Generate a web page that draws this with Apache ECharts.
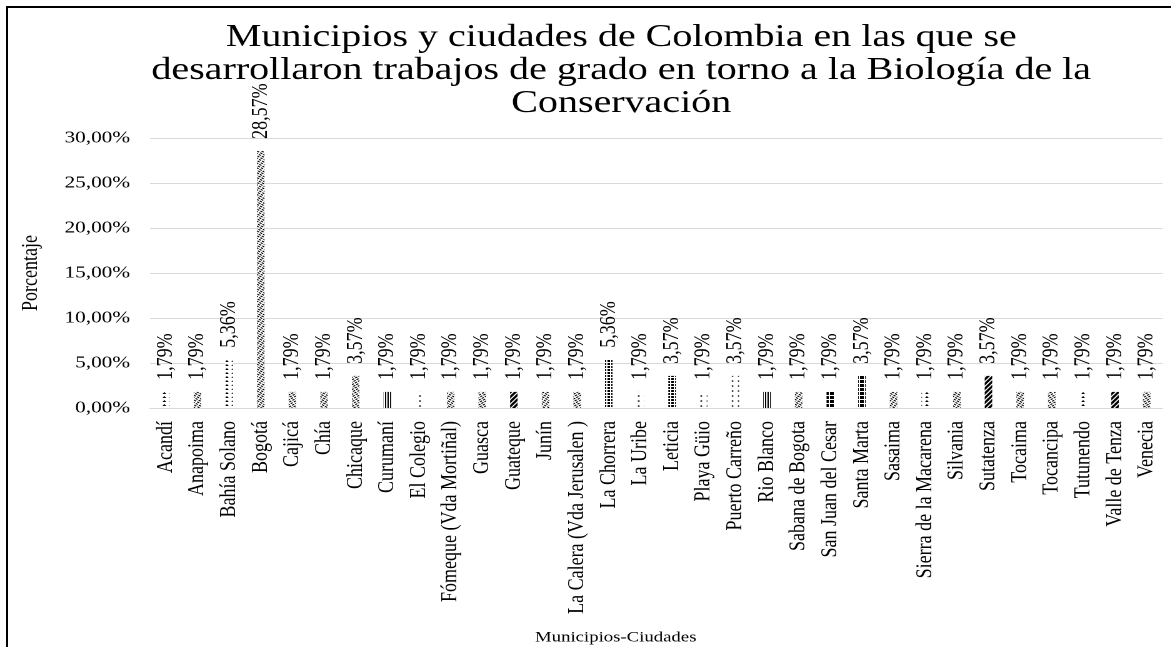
<!DOCTYPE html>
<html>
<head>
<meta charset="utf-8">
<script src="https://cdn.jsdelivr.net/npm/echarts@6/dist/echarts.min.js"></script>
<style>
  html, body { margin: 0; padding: 0; background: #fff; overflow: hidden; }
  #wrap { position: relative; width: 1171px; height: 647px; overflow: hidden; }
  #frame { position: absolute; left: 6px; top: 6px; width: 1200px; height: 700px;
           border-left: 2px solid #000; border-top: 2px solid #000; box-sizing: border-box; }
  #chart { position: absolute; left: 0; top: 0; width: 937px; height: 647px;
           transform: scaleX(1.25); transform-origin: 0 0; }
</style>
</head>
<body>
<div id="wrap">
  <div id="chart"></div>
  <div id="frame"></div>
</div>
<script>
const titleText = 'Municipios y ciudades de Colombia en las que se\ndesarrollaron trabajos de grado en torno a la Biología de la\nConservación';
const xAxisName = 'Municipios-Ciudades';
const yAxisName = 'Porcentaje';

const categories = [
  'Acandí', 'Anapoima', 'Bahía Solano', 'Bogotá', 'Cajicá', 'Chía', 'Chicaque',
  'Curumaní', 'El Colegio', 'Fómeque (Vda Mortiñal)', 'Guasca', 'Guateque', 'Junín',
  'La Calera (Vda Jerusalen )', 'La Chorrera', 'La Uribe', 'Leticia', 'Playa Güio',
  'Puerto Carreño', 'Rio Blanco', 'Sabana de Bogota', 'San Juan del Cesar', 'Santa Marta',
  'Sasaima', 'Sierra de la Macarena', 'Silvania', 'Sutatenza', 'Tocaima', 'Tocancipa',
  'Tutunendo', 'Valle de Tenza', 'Venecia'
];

const values = [
  1.79, 1.79, 5.36, 28.57, 1.79, 1.79, 3.57,
  1.79, 1.79, 1.79, 1.79, 1.79, 1.79,
  1.79, 5.36, 1.79, 3.57, 1.79,
  3.57, 1.79, 1.79, 1.79, 3.57,
  1.79, 1.79, 1.79, 3.57, 1.79, 1.79,
  1.79, 1.79, 1.79
];

const yTicks = [0, 5, 10, 15, 20, 25, 30];

// pattern styles (visual only)
const P = {
  zig:    { symbol: 'triangle', symbolSize: 1, dashArrayX: [3, 2], dashArrayY: [2, 2], rotation: 0 },
  wave:   { symbol: 'rect', symbolSize: 1, dashArrayX: [2, 1], dashArrayY: [1, 1], rotation: 0.6 },
  waveR:  { symbol: 'rect', symbolSize: 1, dashArrayX: [2, 1], dashArrayY: [1, 1], rotation: -0.6 },
  dense:  { symbol: 'rect', symbolSize: 1, dashArrayX: [2, 1], dashArrayY: [2, 1], rotation: 0 },
  vlines: { symbol: 'rect', symbolSize: 1, dashArrayX: [1, 1], dashArrayY: [4, 0], rotation: 0 },
  dots:   { symbol: 'circle', symbolSize: 0.8, dashArrayX: [2, 3], dashArrayY: [2, 3], rotation: 0 },
  diag:   { symbol: 'rect', symbolSize: 1, dashArrayX: [2, 1], dashArrayY: [4, 0], rotation: 0.7 },
  check:  { symbol: 'rect', symbolSize: 1, dashArrayX: [3, 1], dashArrayY: [3, 1], rotation: 0 },
  hlines: { symbol: 'rect', symbolSize: 1, dashArrayX: [4, 0], dashArrayY: [1, 2], rotation: 0 }
};
const patternOrder = [
  'zig', 'wave', 'zig', 'wave', 'waveR', 'wave', 'waveR',
  'vlines', 'dots', 'wave', 'waveR', 'diag', 'wave',
  'waveR', 'dense', 'dots', 'dense', 'dots',
  'dots', 'vlines', 'wave', 'check', 'check',
  'wave', 'zig', 'wave', 'diag', 'wave', 'waveR',
  'zig', 'diag', 'waveR'
];

const FONT = '"Liberation Serif", "Times New Roman", serif';
const fmt = v => v.toFixed(2).replace('.', ',') + '%';

const chart = echarts.init(document.getElementById('chart'), null, { renderer: 'canvas', devicePixelRatio: 2 });

const seriesData = values.map((v, i) => ({
  value: v,
  itemStyle: {
    color: '#ffffff',
    decal: Object.assign({ color: '#000000', backgroundColor: '#ffffff' }, P[patternOrder[i]])
  }
}));

chart.setOption({
  backgroundColor: '#ffffff',
  animation: false,
  title: {
    text: titleText,
    left: 492,
    top: 16,
    textAlign: 'center',
    textStyle: {
      fontFamily: FONT, fontSize: 32, fontWeight: 'normal', color: '#000', lineHeight: 33
    }
  },
  grid: { left: 120, right: 7, top: 138, bottom: 239, containLabel: false },
  xAxis: {
    type: 'category',
    data: categories,
    axisLine: { show: true, lineStyle: { color: '#d9d9d9', width: 1 } },
    axisTick: { show: false },
    axisLabel: {
      interval: 0, rotate: 90, margin: 13,
      fontFamily: FONT, fontSize: 18, color: '#000'
    }
  },
  yAxis: {
    type: 'value',
    min: yTicks[0], max: yTicks[yTicks.length - 1], interval: yTicks[1] - yTicks[0],
    name: yAxisName,
    nameLocation: 'middle',
    nameGap: 86,
    nameRotate: 90,
    nameTextStyle: { fontFamily: FONT, fontSize: 18, color: '#000' },
    axisLine: { show: false },
    axisTick: { show: false },
    splitLine: { lineStyle: { color: '#d9d9d9', width: 1 } },
    axisLabel: { formatter: fmt, margin: 16, fontFamily: FONT, fontSize: 17, color: '#000' }
  },
  series: [{
    type: 'bar',
    data: seriesData,
    barWidth: 6,
    label: {
      show: true, position: 'top', rotate: 90, align: 'left', verticalAlign: 'middle',
      distance: 12, formatter: p => fmt(p.value),
      fontFamily: FONT, fontSize: 18, color: '#000'
    }
  }],
  graphic: [{
    type: 'text',
    left: 428,
    top: 630,
    style: { text: xAxisName, fontFamily: FONT, fontSize: 15, fill: '#000' }
  }]
});
</script>
</body>
</html>
